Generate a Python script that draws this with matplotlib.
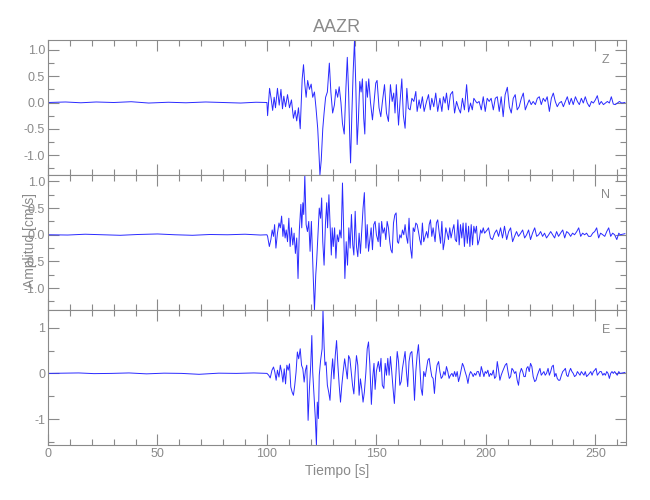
import numpy as np
import matplotlib.pyplot as plt
from matplotlib.ticker import MultipleLocator, FormatStrFormatter

plt.rcParams['font.family'] = ['Liberation Sans', 'DejaVu Sans']

title = "AAZR"
components = ["Z", "N", "E"]
xlabel = "Tiempo [s]"
ylabel = "Amplitud [cm/s]"

# --- Z component (time s, amplitude cm/s) ---
z_t = [0, 8, 15, 22, 30, 38, 46, 55, 63, 72, 80, 88, 95, 100.0,
       100.3, 101.2, 102.0, 102.6, 103.3, 103.9, 104.8, 105.6, 106.4, 107.1,
       107.7, 108.5, 109.4, 110.3, 111.2, 112.1, 112.9, 113.6, 114.4, 115.2,
       116.1, 116.7, 117.3, 117.9, 118.6, 119.4, 120.2, 120.9, 121.7, 122.4,
       123.2, 123.8, 124.2, 124.8, 125.5, 126.1, 126.8, 127.6, 128.5, 129.2,
       130.0, 130.8, 131.5, 132.3, 133.0, 133.8, 134.5, 135.3, 136.1, 136.7,
       137.3, 137.9, 138.2, 138.8, 139.4, 140.0, 140.6, 141.2, 141.8, 142.4,
       143.0, 143.6, 144.2, 144.7, 145.3, 145.9, 146.5, 147.3, 148.2, 149.7,
       150.3, 151.2, 152.0, 152.7, 153.7, 154.6, 155.5, 156.4, 157.2, 157.9,
       158.5, 159.1, 160.1, 160.8, 161.6, 162.3, 163.1, 163.9, 164.6, 165.4,
       166.2, 167.1, 168.0, 168.6, 169.5, 170.1, 171.0, 171.8, 172.9, 173.8,
       174.6, 175.3, 176.2, 177.1, 178.0, 179.0, 179.9, 180.6, 181.4, 182.0,
       182.9, 183.8, 184.8, 185.7, 186.6, 187.5, 188.4, 189.3, 190.2, 191.2,
       192.1, 193.0, 193.8, 194.5, 195.4, 196.0, 196.9, 197.9, 198.8, 199.7,
       200.6, 201.5, 202.4, 203.4, 204.3, 205.2, 206.1, 207.0, 207.9, 208.8,
       209.8, 210.7, 211.6, 212.5, 213.4, 214.3, 215.2, 216.2, 217.1, 218.0,
       218.9, 219.8, 220.7, 221.6, 222.6, 223.5, 224.4, 225.3, 226.2, 227.1,
       228.0, 229.0, 229.9, 230.8, 231.7, 232.6, 233.5, 234.5, 235.4, 236.3,
       237.2, 238.1, 239.0, 239.9, 240.9, 241.8, 242.7, 243.6, 244.5, 245.4,
       246.3, 247.3, 248.2, 249.1, 250.0, 250.9, 251.8, 252.7, 253.7, 254.6,
       255.5, 256.4, 257.3, 258.2, 259.1, 260.1, 261.0, 262.0, 263.5]
z_v = [0.0, 0.01, -0.005, 0.01, 0.0, 0.015, -0.01, 0.005, -0.005, 0.01, 0.0, -0.01, 0.005, 0.0,
       -0.25, 0.27, 0.05, -0.15, 0.10, -0.10, 0.27, -0.05, 0.25, -0.12,
       0.12, -0.08, 0.15, -0.10, 0.05, -0.30, -0.15, -0.35, -0.10, -0.50,
       0.45, 0.72, 0.35, 0.10, 0.42, 0.25, 0.35, 0.10, 0.20, -0.10,
       -0.50, -1.00, -1.38, -1.10, -0.50, -0.20, 0.10, 0.20, 0.75, 0.20,
       -0.20, -0.05, 0.25, 0.10, 0.30, 0.00, -0.40, -0.60, 0.30, 0.86,
       0.20, -0.80, -1.15, -0.20, 0.60, 1.19, 0.30, -0.80, -0.30, 0.40,
       0.20, 0.45, -0.30, -0.60, 0.40, 0.10, 0.45, 0.00, -0.33, 0.37,
       0.42, -0.10, -0.27, 0.00, 0.34, -0.20, -0.36, 0.34, 0.02, 0.18,
       -0.20, 0.34, -0.43, 0.02, 0.45, -0.24, -0.49, 0.27, -0.11, -0.14,
       0.08, 0.02, 0.21, -0.17, 0.05, -0.11, 0.11, -0.17, 0.02, 0.15,
       -0.14, 0.08, -0.08, 0.18, -0.17, 0.08, -0.17, 0.11, -0.01, 0.18,
       -0.14, 0.15, 0.21, -0.20, 0.02, -0.11, -0.20, 0.08, -0.14, 0.34,
       -0.18, -0.01, -0.14, 0.08, 0.02, -0.01, 0.02, -0.14, 0.11, -0.17,
       0.08, 0.02, 0.08, -0.14, 0.08, 0.11, -0.17, 0.11, -0.27, 0.15,
       0.29, -0.08, -0.20, 0.08, 0.15, -0.14, -0.08, 0.08, 0.18, -0.14,
       -0.04, 0.05, -0.04, 0.02, -0.04, 0.08, 0.11, -0.04, 0.08, 0.02,
       0.11, -0.17, 0.08, 0.18, 0.02, -0.08, -0.01, 0.02, -0.08, 0.02,
       0.11, -0.04, 0.08, -0.04, 0.11, 0.02, -0.04, 0.08, -0.01, 0.11,
       -0.01, -0.08, 0.02, -0.01, 0.05, 0.13, -0.04, 0.02, -0.04, -0.01,
       0.02, -0.01, 0.11, -0.03, -0.04, -0.01, 0.02, -0.01, 0.0]

# --- N component ---
n_t = [0, 9, 17, 25, 33, 41, 50, 58, 66, 74, 82, 90, 97, 100.0,
       100.3, 101.1, 101.8, 102.4, 103.0, 103.5, 104.1, 104.8, 105.5, 106.1,
       106.7, 107.3, 107.7, 108.3, 108.8, 109.4, 110.0, 110.6, 111.2, 111.8,
       112.4, 113.0, 113.6, 114.2, 114.8, 115.5, 115.9, 116.4, 116.8, 117.3,
       117.9, 118.5, 119.1, 119.7, 120.3, 120.9, 121.2, 121.7, 122.3, 122.7,
       123.3, 123.9, 124.5, 125.0, 125.5, 126.1, 126.7, 127.3, 127.7, 128.3,
       128.8, 129.4, 129.8, 130.3, 130.9, 131.5, 132.1, 132.7, 133.3, 133.9,
       134.5, 135.2, 135.6, 136.2, 136.8, 137.4, 138.0, 138.6, 139.2, 139.7,
       140.3, 140.9, 141.5, 142.1, 142.7, 143.3, 143.9, 144.5, 145.2, 145.8,
       146.4, 147.0, 147.6, 148.2, 148.8, 149.4, 150.0, 150.8, 151.2, 151.8,
       152.4, 153.0, 153.7, 154.3, 154.9, 155.5, 156.1, 156.6, 157.2, 157.8,
       158.4, 159.0, 159.6, 160.1, 160.7, 161.3, 161.9, 162.5, 163.1, 163.7,
       164.3, 164.9, 165.5, 166.2, 166.8, 167.4, 168.0, 168.6, 169.2, 169.8,
       170.4, 171.0, 171.6, 172.3, 172.9, 173.5, 174.1, 174.7, 175.3, 175.9,
       176.8, 177.4, 178.0, 178.7, 179.3, 179.9, 180.5, 181.1, 181.7, 182.3,
       182.9, 183.5, 184.1, 184.8, 185.4, 186.0, 186.6, 187.2, 187.8, 188.4,
       189.0, 189.6, 190.2, 190.9, 191.5, 192.1, 192.7, 193.3, 193.9, 194.5,
       195.1, 195.7, 196.3, 197.0, 197.6, 198.2, 198.8, 199.4, 200.0, 200.6,
       201.2, 202.1, 203.0, 204.0, 204.9, 205.8, 206.7, 207.6, 208.5, 209.5,
       210.4, 211.3, 212.2, 213.1, 214.0, 214.9, 215.9, 216.8, 217.7, 218.6,
       219.5, 220.4, 221.3, 222.3, 223.2, 224.1, 225.0, 225.9, 226.8, 227.7,
       228.7, 229.6, 230.5, 231.4, 232.3, 233.2, 234.1, 235.1, 236.0, 236.9,
       237.8, 238.7, 239.6, 240.5, 241.5, 242.4, 243.3, 244.2, 245.1, 246.0,
       246.9, 247.9, 248.8, 249.7, 250.6, 251.5, 252.4, 253.4, 254.3, 255.2,
       256.1, 257.0, 257.9, 258.8, 259.8, 260.7, 261.3, 263.5]
n_v = [0.0, -0.005, 0.01, 0.0, -0.01, 0.005, 0.015, 0.0, -0.01, 0.005, 0.0, 0.01, -0.005, 0.0,
       -0.03, -0.22, -0.09, 0.09, -0.03, 0.19, -0.25, 0.03, 0.22, 0.13,
       0.35, -0.03, 0.19, -0.06, 0.09, -0.13, 0.31, -0.22, 0.13, -0.19,
       0.03, -0.35, -0.06, -0.82, 0.09, 0.57, 0.13, 0.60, 0.38, 1.12,
       0.19, 0.06, 0.25, -0.31, 0.25, -0.50, -0.85, -1.41, -0.75, -0.50,
       0.00, 0.50, 0.31, 0.69, -0.13, -0.57, 0.19, 0.60, 0.13, 0.75,
       0.25, -0.38, 0.13, -0.22, 0.13, -0.44, 0.00, -0.13, 0.09, -0.06,
       0.97, -0.13, -0.82, -0.13, -0.57, 0.13, -0.25, 0.38, -0.19, -0.38,
       0.44, -0.22, -0.41, 0.03, -0.35, 0.06, 0.50, 0.79, -0.25, 0.19,
       -0.31, -0.09, 0.13, -0.28, 0.19, 0.25, 0.00, -0.13, 0.22, -0.22,
       0.25, 0.03, 0.13, -0.09, 0.25, 0.13, -0.13, -0.28, -0.34, 0.22,
       0.37, 0.41, -0.13, -0.16, 0.00, -0.06, 0.09, 0.00, 0.19, -0.03,
       -0.16, 0.31, -0.22, -0.44, 0.13, 0.06, 0.22, 0.19, 0.06, -0.09,
       -0.19, 0.22, -0.13, -0.03, 0.06, -0.06, 0.19, 0.28, -0.03, 0.13,
       -0.13, 0.22, 0.28, 0.03, -0.16, 0.25, -0.28, -0.13, 0.13, 0.03,
       -0.09, 0.13, -0.06, 0.09, 0.19, -0.09, -0.13, 0.28, -0.19, 0.19,
       -0.06, 0.22, -0.22, 0.22, -0.16, 0.16, -0.22, 0.19, -0.19, 0.16,
       0.03, 0.16, -0.19, -0.09, 0.09, 0.03, 0.13, 0.03, 0.06, 0.09,
       0.13, -0.06, -0.09, 0.03, 0.09, -0.03, 0.13, -0.06, 0.16, -0.09,
       0.06, 0.13, -0.13, -0.03, 0.06, -0.03, 0.03, 0.09, -0.06, 0.00,
       0.09, -0.09, 0.03, 0.13, -0.03, 0.00, 0.06, -0.03, 0.03, -0.06,
       0.00, 0.06, 0.00, -0.06, 0.06, -0.03, 0.03, 0.09, -0.06, 0.06,
       0.03, -0.03, 0.03, 0.00, 0.06, 0.13, -0.03, 0.03, 0.00, 0.03,
       -0.03, -0.03, 0.03, 0.06, 0.13, -0.06, 0.03, 0.00, -0.03, 0.06,
       0.13, -0.03, 0.03, 0.00, -0.09, 0.03, 0.00, 0.02]

# --- E component ---
e_t = [0, 7, 14, 21, 29, 37, 45, 53, 61, 69, 78, 86, 94, 100.0,
       100.8, 101.5, 102.3, 103.0, 103.6, 104.2, 104.8, 105.5, 106.1, 106.7,
       107.3, 107.9, 108.5, 109.1, 109.7, 110.3, 110.9, 111.5, 112.1, 112.7,
       113.3, 113.9, 114.5, 115.2, 115.8, 116.4, 117.0, 117.6, 118.2, 118.8,
       119.4, 120.0, 120.5, 120.9, 121.5, 122.1, 122.6, 123.0, 123.5, 123.9,
       124.5, 125.2, 125.6, 126.1, 126.5, 127.0, 127.6, 128.2, 128.8, 129.4,
       130.0, 130.6, 131.2, 131.8, 132.4, 133.0, 133.6, 134.2, 134.8, 135.5,
       136.1, 136.7, 137.3, 137.9, 138.5, 139.1, 139.7, 140.3, 140.9, 141.5,
       142.1, 142.7, 143.3, 143.9, 144.5, 145.2, 145.8, 146.4, 147.0, 147.7,
       148.3, 148.9, 149.4, 150.0, 150.9, 151.5, 152.1, 152.7, 153.4, 154.0,
       154.6, 155.2, 155.8, 156.4, 157.0, 157.6, 158.2, 158.8, 159.5, 160.1,
       160.7, 161.3, 161.9, 162.5, 163.1, 163.7, 164.3, 164.9, 165.5, 166.2,
       166.8, 167.4, 168.0, 168.6, 169.2, 169.8, 170.4, 171.0, 171.6, 172.3,
       172.9, 173.5, 174.1, 174.7, 175.3, 175.9, 176.5, 177.1, 177.7, 178.4,
       179.0, 179.6, 180.2, 180.8, 181.4, 182.0, 182.6, 183.2, 183.8, 184.5,
       185.1, 185.7, 186.3, 186.9, 187.5, 188.1, 188.7, 189.3, 189.9, 190.5,
       191.2, 191.8, 192.4, 193.0, 193.6, 194.2, 194.8, 195.4, 196.0, 196.6,
       197.3, 197.9, 198.5, 199.1, 199.7, 200.3, 200.9, 201.5, 202.1, 202.7,
       203.4, 204.0, 204.6, 205.2, 205.8, 206.4, 207.0, 207.6, 208.2, 208.8,
       209.5, 210.1, 210.7, 211.3, 211.9, 212.5, 213.1, 213.7, 214.3, 214.9,
       215.5, 216.2, 216.8, 217.4, 218.0, 218.6, 219.2, 219.8, 220.4, 221.0,
       221.6, 222.3, 222.9, 223.5, 224.1, 224.7, 225.3, 225.9, 226.5, 227.1,
       227.7, 228.4, 229.0, 229.6, 230.2, 230.8, 231.4, 232.0, 232.6, 233.2,
       233.8, 234.5, 235.1, 235.7, 236.3, 236.9, 237.5, 238.1, 238.7, 239.3,
       239.9, 240.5, 241.2, 241.8, 242.4, 243.0, 243.6, 244.2, 244.8, 245.4,
       246.0, 246.6, 247.3, 247.9, 248.5, 249.1, 249.7, 250.3, 250.9, 251.5,
       252.1, 252.7, 253.4, 254.0, 254.6, 255.2, 255.8, 256.4, 257.0, 257.6,
       258.2, 258.8, 259.4, 260.0, 260.7, 261.3, 263.5]
e_v = [0.0, 0.005, 0.01, -0.005, 0.0, 0.01, -0.01, 0.005, 0.0, -0.02, 0.005, 0.0, 0.01, 0.0,
       -0.04, -0.10, 0.07, 0.14, 0.03, -0.15, 0.07, -0.08, 0.18, 0.03,
       -0.19, 0.10, -0.23, 0.18, 0.07, 0.21, -0.30, -0.41, -0.48, -0.26,
       0.03, 0.47, 0.32, 0.54, 0.18, 0.10, -0.19, 0.07, 0.18, -1.03,
       -0.34, 0.18, 0.83, 0.03, -0.48, -0.99, -1.57, -0.63, -0.99, -0.04,
       0.28, 0.54, 1.39, 0.61, 0.18, 0.25, -0.26, -0.41, -0.59, -0.04,
       0.32, -0.12, 0.39, 0.72, 0.18, -0.26, -0.63, -0.26, 0.03, 0.32,
       0.10, -0.12, 0.39, 0.32, 0.03, -0.26, -0.45, 0.03, 0.39, 0.18,
       -0.48, -0.12, -0.34, -0.63, -0.41, 0.03, 0.54, 0.69, 0.20, -0.68,
       -0.10, 0.22, -0.35, 0.05, 0.26, 0.04, 0.33, -0.26, -0.33, 0.22,
       -0.04, 0.33, -0.04, 0.37, 0.04, -0.33, -0.66, -0.11, 0.48, 0.26,
       -0.26, -0.18, 0.11, 0.29, 0.48, 0.04, -0.29, 0.26, 0.44, 0.48,
       0.04, -0.59, 0.04, 0.40, 0.63, 0.18, -0.33, -0.48, 0.04, -0.07,
       0.11, 0.29, 0.33, 0.11, -0.07, -0.11, -0.44, -0.04, 0.18, 0.26,
       0.04, -0.11, -0.07, 0.04, -0.04, 0.15, 0.04, -0.11, -0.04, 0.00,
       -0.07, 0.04, -0.07, 0.04, -0.18, -0.07, 0.07, 0.22, 0.15, 0.04,
       -0.07, -0.22, -0.04, 0.04, 0.00, -0.07, 0.00, -0.04, 0.04, 0.04,
       -0.07, 0.15, 0.04, -0.07, 0.04, 0.00, 0.07, -0.07, 0.00, -0.04,
       0.07, -0.11, -0.07, 0.26, 0.07, -0.15, -0.04, 0.04, 0.11, 0.18,
       0.22, 0.04, -0.11, -0.07, 0.11, 0.07, 0.00, 0.04, -0.15, -0.26,
       0.00, 0.11, 0.04, -0.07, -0.07, 0.11, 0.15, 0.04, 0.22, 0.15,
       -0.07, -0.18, -0.15, -0.04, 0.04, 0.11, -0.04, 0.00, 0.04, -0.04,
       0.00, 0.11, -0.04, 0.04, 0.15, 0.18, -0.07, 0.00, -0.11, -0.15,
       -0.15, -0.04, 0.04, 0.07, 0.11, -0.04, -0.07, 0.04, 0.11, 0.04,
       0.00, -0.07, -0.04, 0.04, 0.00, -0.04, 0.04, 0.00, -0.04, 0.04,
       -0.07, -0.04, 0.00, 0.04, -0.04, 0.04, 0.07, 0.11, -0.04, 0.00,
       0.04, 0.04, -0.04, 0.00, -0.04, 0.04, 0.00, -0.11, 0.00, 0.04,
       0.00, 0.04, 0.00, -0.04, 0.04, 0.00, 0.02]

traces = [(z_t, z_v), (n_t, n_v), (e_t, e_v)]
y_major = [0.5, 0.5, 1.0]
y_fmt = ['%.1f', '%.1f', '%d']

gray = '#8a8a8a'
fig = plt.figure(figsize=(6.5, 5), dpi=100)

W, H = 650.0, 500.0
left, right = 48 / W, 626 / W
edges = [40, 175, 310, 445]

axes = []
for i in range(3):
    bottom = 1 - edges[i + 1] / H
    height = (edges[i + 1] - edges[i]) / H
    ax = fig.add_axes([left, bottom, right - left, height])
    t, v = traces[i]
    ax.plot(t, v, color='#2a2aff', lw=0.7)
    ax.set_xlim(0, 264)
    ax.set_ylim(min(v), max(v))
    ax.xaxis.set_major_locator(MultipleLocator(50))
    ax.xaxis.set_minor_locator(MultipleLocator(10))
    ax.yaxis.set_major_locator(MultipleLocator(y_major[i]))
    ax.yaxis.set_minor_locator(MultipleLocator(y_major[i] / 2))
    ax.yaxis.set_major_formatter(FormatStrFormatter(y_fmt[i]))
    ax.tick_params(which='both', direction='in', top=True, right=True,
                   colors=gray, labelcolor=gray, labelsize=9, pad=2, width=0.8)
    ax.tick_params(which='major', length=8)
    ax.tick_params(which='minor', length=4)
    for s in ax.spines.values():
        s.set_color(gray)
        s.set_linewidth(0.8)
    if i < 2:
        ax.tick_params(labelbottom=False)
    ax.text(0.965, 0.85, components[i], transform=ax.transAxes,
            ha='center', va='center', color=gray, fontsize=9)
    axes.append(ax)

axes[0].set_title(title, color=gray, fontsize=13, pad=6)
axes[2].set_xlabel(xlabel, color=gray, fontsize=10, labelpad=3)
fig.text(30 / W, 1 - 240 / H, ylabel, rotation=90, ha='center', va='center',
         color=gray, fontsize=10)

fig.savefig('out.png', dpi=100)
